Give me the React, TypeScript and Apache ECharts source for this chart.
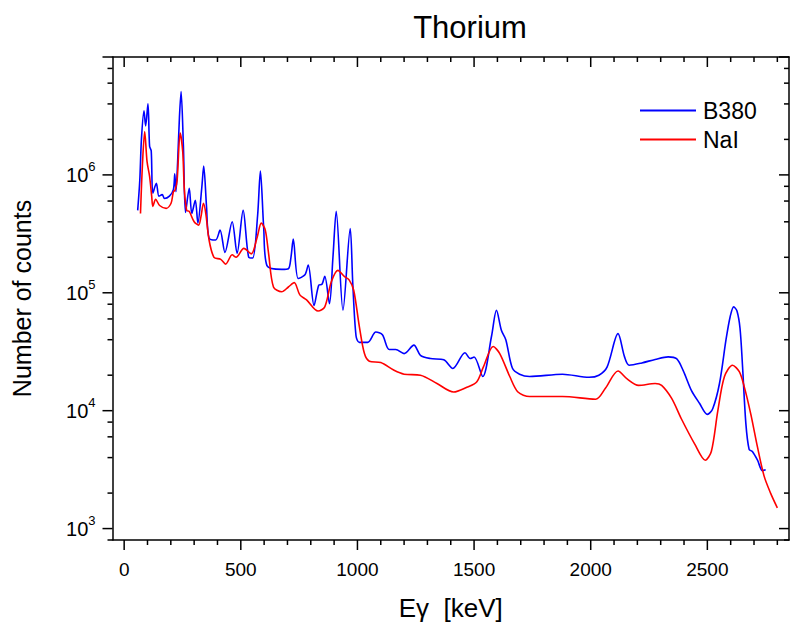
import React, { useEffect, useRef } from 'react';
import * as echarts from 'echarts';

// ---- axis ranges & ticks ----
const X_MIN = -50;
const X_MAX = 2850;
const Y_MIN = 800;
const Y_MAX = 1e7;

const xTickValues = [0, 100, 200, 300, 400, 500, 600, 700, 800, 900, 1000, 1100, 1200, 1300, 1400, 1500, 1600, 1700, 1800, 1900, 2000, 2100, 2200, 2300, 2400, 2500, 2600, 2700, 2800];
const xLabelValues = [0, 500, 1000, 1500, 2000, 2500];
const yMajorTicks = [1e3, 1e4, 1e5, 1e6, 1e7];
const yMinorTicks = [800, 2e3, 4e3, 6e3, 8e3, 2e4, 4e4, 6e4, 8e4, 2e5, 4e5, 6e5, 8e5, 2e6, 4e6, 6e6, 8e6];
const yLabelExponents = [3, 4, 5, 6];

// ---- data: B380 ----
const b380Energy = [58, 67, 74, 85, 92, 102, 109, 116, 123, 138, 149, 163, 173, 194, 211, 217, 222, 229, 237, 244, 254, 263, 279, 290, 305, 316, 333, 341, 353, 364, 392, 411, 432, 463, 484, 510, 534, 551, 572, 584, 598, 612, 676, 704, 715, 725, 746, 775, 789, 814, 834, 848, 860, 880, 895, 909, 938, 969, 980, 994, 1008, 1044, 1079, 1107, 1136, 1164, 1200, 1242, 1270, 1313, 1370, 1409, 1461, 1483, 1500, 1537, 1575, 1596, 1617, 1636, 1664, 1695, 1738, 1879, 1993, 2035, 2070, 2117, 2145, 2165, 2219, 2276, 2332, 2368, 2396, 2432, 2467, 2500, 2523, 2552, 2580, 2598, 2613, 2627, 2640, 2651, 2665, 2679, 2693, 2715, 2736, 2750];
const b380Counts = [5.0e5, 9.0e5, 2.0e6, 3.5e6, 2.6e6, 4.0e6, 1.75e6, 1.6e6, 7.0e5, 8.5e5, 6.6e5, 6.8e5, 6.3e5, 6.6e5, 7.5e5, 1.02e6, 7.2e5, 1.26e6, 3.1e6, 5.1e6, 1.74e6, 4.8e5, 7.7e5, 4.7e5, 6.1e5, 3.9e5, 7.9e5, 1.19e6, 5.4e5, 2.9e5, 2.8e5, 3.4e5, 2.2e5, 4.0e5, 2.16e5, 5.0e5, 2.0e5, 1.97e5, 4.5e5, 1.08e6, 3.6e5, 1.7e5, 1.58e5, 1.6e5, 2.0e5, 2.85e5, 1.32e5, 1.42e5, 1.72e5, 7.8e4, 1.16e5, 1.18e5, 1.38e5, 8.1e4, 2.0e5, 4.9e5, 7.1e4, 3.5e5, 1.2e5, 4.3e4, 3.8e4, 3.8e4, 4.65e4, 4.4e4, 3.3e4, 3.3e4, 3.05e4, 3.6e4, 2.95e4, 2.77e4, 2.7e4, 2.28e4, 3.1e4, 2.77e4, 2.85e4, 1.95e4, 4.3e4, 7.1e4, 4.8e4, 4.0e4, 2.3e4, 2.04e4, 1.95e4, 2.04e4, 1.92e4, 2.0e4, 2.34e4, 4.5e4, 2.86e4, 2.43e4, 2.54e4, 2.72e4, 2.86e4, 2.76e4, 2.2e4, 1.48e4, 1.15e4, 9.3e3, 1.04e4, 1.7e4, 4.0e4, 6.3e4, 7.6e4, 7.0e4, 5.0e4, 2.35e4, 7.8e3, 4.7e3, 4.5e3, 3.8e3, 3.1e3, 3.15e3];

// ---- data: NaI ----
const naiEnergy = [70, 78, 88, 98, 109, 118, 123, 135, 152, 180, 201, 211, 218, 227, 240, 251, 258, 268, 279, 300, 319, 329, 340, 350, 364, 385, 414, 435, 463, 480, 513, 545, 569, 588, 605, 619, 640, 675, 704, 729, 753, 782, 831, 860, 888, 916, 945, 965, 984, 1008, 1030, 1051, 1100, 1157, 1200, 1270, 1341, 1412, 1469, 1511, 1540, 1582, 1610, 1653, 1688, 1738, 1879, 2021, 2063, 2117, 2156, 2205, 2276, 2304, 2347, 2389, 2446, 2491, 2517, 2545, 2573, 2608, 2637, 2658, 2686, 2715, 2743, 2771, 2800];
const naiCounts = [4.7e5, 1.18e6, 2.33e6, 1.3e6, 9.7e5, 6.6e5, 5.4e5, 6.2e5, 5.5e5, 5.2e5, 5.75e5, 7.2e5, 7.4e5, 9.0e5, 2.26e6, 1.58e6, 7.5e5, 5.0e5, 4.9e5, 4.0e5, 3.75e5, 4.4e5, 5.75e5, 4.7e5, 2.8e5, 2.0e5, 1.92e5, 1.75e5, 2.1e5, 2.0e5, 2.38e5, 2.14e5, 2.9e5, 3.9e5, 3.4e5, 2.16e5, 1.12e5, 1.02e5, 1.12e5, 1.22e5, 9.6e4, 8.7e4, 7.0e4, 7.6e4, 1.24e5, 1.55e5, 1.37e5, 1.28e5, 1.05e5, 5.2e4, 3.05e4, 2.63e4, 2.56e4, 2.2e4, 2.04e4, 2.0e4, 1.7e4, 1.44e4, 1.58e4, 1.75e4, 2.35e4, 3.5e4, 3.05e4, 1.95e4, 1.44e4, 1.32e4, 1.32e4, 1.25e4, 1.55e4, 2.17e4, 1.86e4, 1.64e4, 1.7e4, 1.64e4, 1.27e4, 8.5e3, 5.2e3, 3.8e3, 4.5e3, 1.0e4, 1.94e4, 2.43e4, 2.14e4, 1.6e4, 9.4e3, 4.9e3, 2.8e3, 2.0e3, 1.5e3];

const FONT = '"Liberation Sans", Arial, Helvetica, sans-serif';
const BLUE = '#0000ff';
const RED = '#ff0000';

export default function App() {
  const ref = useRef<HTMLDivElement>(null);

  useEffect(() => {
    document.body.style.margin = '0';
    if (!ref.current) return;
    const chart = echarts.init(ref.current, null, { renderer: 'svg' });

    const b380 = b380Energy.map((e, i) => [e, b380Counts[i]]);
    const nai = naiEnergy.map((e, i) => [e, naiCounts[i]]);

    const tickStyle = { stroke: '#000', lineWidth: 1.5 };

    const option: any = {
      animation: false,
      backgroundColor: '#fff',
      textStyle: { fontFamily: FONT, color: '#000' },
      title: {
        text: 'Thorium',
        left: 465,
        top: 7,
        textAlign: 'center',
        textStyle: { fontSize: 31, fontWeight: 'normal', color: '#000', fontFamily: FONT },
      },
      legend: {
        data: ['B380', 'NaI'],
        orient: 'vertical',
        left: 640,
        top: 99,
        padding: 0,
        icon: 'rect',
        itemWidth: 56,
        itemHeight: 2,
        itemGap: 6,
        textStyle: { fontSize: 23, color: '#000', fontFamily: FONT, padding: [0, 0, 0, 2] },
      },
      grid: { left: 112.5, top: 57, width: 682.7, height: 485, containLabel: false },
      xAxis: [
        {
          type: 'value',
          position: 'bottom',
          min: X_MIN,
          max: X_MAX,
          splitNumber: 6,
          axisLine: { show: true, onZero: false, lineStyle: { color: '#000', width: 1.5 } },
          axisTick: { show: false },
          splitLine: { show: false },
          axisLabel: {
            margin: 20,
            fontSize: 19,
            color: '#000',
            fontFamily: FONT,
            formatter: (v: number) => (xLabelValues.indexOf(Math.round(v)) >= 0 && Math.abs(v - Math.round(v)) < 1e-6 ? String(Math.round(v)) : ''),
          },
          name: 'Eγ  [keV]',
          nameLocation: 'middle',
          nameGap: 55,
          nameTextStyle: { fontSize: 26, color: '#000', fontFamily: FONT },
        },
        {
          type: 'value',
          position: 'top',
          min: X_MIN,
          max: X_MAX,
          splitNumber: 6,
          axisLine: { show: true, onZero: false, lineStyle: { color: '#000', width: 1.5 } },
          axisTick: { show: false },
          splitLine: { show: false },
          axisLabel: { show: false },
        },
      ],
      yAxis: [
        {
          type: 'log',
          logBase: 10,
          position: 'left',
          min: Y_MIN,
          max: Y_MAX,
          axisLine: { show: true, onZero: false, lineStyle: { color: '#000', width: 1.5 } },
          axisTick: { show: false },
          splitLine: { show: false },
          minorTick: { show: false },
          axisLabel: {
            margin: 17,
            color: '#000',
            fontFamily: FONT,
            formatter: (v: number) => {
              const e = Math.round(Math.log10(v));
              if (Math.abs(v - Math.pow(10, e)) > 1e-6 * v) return '';
              if (yLabelExponents.indexOf(e) < 0) return '';
              return '{b|10}{s|' + e + '}';
            },
            rich: {
              b: { fontSize: 20, lineHeight: 30, color: '#000', fontFamily: FONT },
              s: { fontSize: 13, lineHeight: 13, verticalAlign: 'top', color: '#000', fontFamily: FONT },
            },
          },
          name: 'Number of counts',
          nameLocation: 'middle',
          nameGap: 78,
          nameTextStyle: { fontSize: 25, color: '#000', fontFamily: FONT },
        },
        {
          type: 'log',
          logBase: 10,
          position: 'right',
          min: Y_MIN,
          max: Y_MAX,
          axisLine: { show: true, onZero: false, lineStyle: { color: '#000', width: 1.5 } },
          axisTick: { show: false },
          splitLine: { show: false },
          axisLabel: { show: false },
        },
      ],
      series: [
        {
          name: 'B380',
          type: 'line',
          xAxisIndex: 0,
          yAxisIndex: 0,
          data: b380,
          symbol: 'none',
          smooth: 0.3,
          lineStyle: { color: BLUE, width: 1.6 },
          itemStyle: { color: BLUE },
          z: 3,
        },
        {
          name: 'NaI',
          type: 'line',
          xAxisIndex: 0,
          yAxisIndex: 0,
          data: nai,
          symbol: 'none',
          smooth: 0.3,
          lineStyle: { color: RED, width: 1.6 },
          itemStyle: { color: RED },
          z: 4,
        },
        {
          name: 'xTicks',
          type: 'custom',
          coordinateSystem: 'cartesian2d',
          xAxisIndex: 0,
          yAxisIndex: 0,
          silent: true,
          clip: false,
          z: 6,
          data: xTickValues.map((v) => [v, 1e4, xLabelValues.indexOf(v) >= 0 ? 1 : 0]),
          encode: { x: 0, y: 1 },
          renderItem: (params: any, api: any) => {
            const v = api.value(0);
            const major = api.value(2) === 1;
            const pb = api.coord([v, Y_MIN]);
            const pt = api.coord([v, Y_MAX]);
            const len = major ? 10 : 5;
            return {
              type: 'group',
              children: [
                { type: 'line', shape: { x1: pb[0], y1: pb[1], x2: pb[0], y2: pb[1] + len }, style: tickStyle },
                { type: 'line', shape: { x1: pt[0], y1: pt[1], x2: pt[0], y2: pt[1] + len }, style: tickStyle },
              ],
            };
          },
        },
        {
          name: 'yTicks',
          type: 'custom',
          coordinateSystem: 'cartesian2d',
          xAxisIndex: 0,
          yAxisIndex: 0,
          silent: true,
          clip: false,
          z: 6,
          data: yMajorTicks.map((v) => [1000, v, 1]).concat(yMinorTicks.map((v) => [1000, v, 0])),
          encode: { x: 0, y: 1 },
          renderItem: (params: any, api: any) => {
            const v = api.value(1);
            const major = api.value(2) === 1;
            const pl = api.coord([X_MIN, v]);
            const pr = api.coord([X_MAX, v]);
            const len = major ? 10 : 5;
            return {
              type: 'group',
              children: [
                { type: 'line', shape: { x1: pl[0] - len, y1: pl[1], x2: pl[0], y2: pl[1] }, style: tickStyle },
                { type: 'line', shape: { x1: pr[0] - len, y1: pr[1], x2: pr[0], y2: pr[1] }, style: tickStyle },
              ],
            };
          },
        },
      ],
    };

    chart.setOption(option);
    return () => {
      chart.dispose();
    };
  }, []);

  return <div ref={ref} style={{ width: 792, height: 626, position: 'absolute', left: 0, top: 0 }} />;
}
